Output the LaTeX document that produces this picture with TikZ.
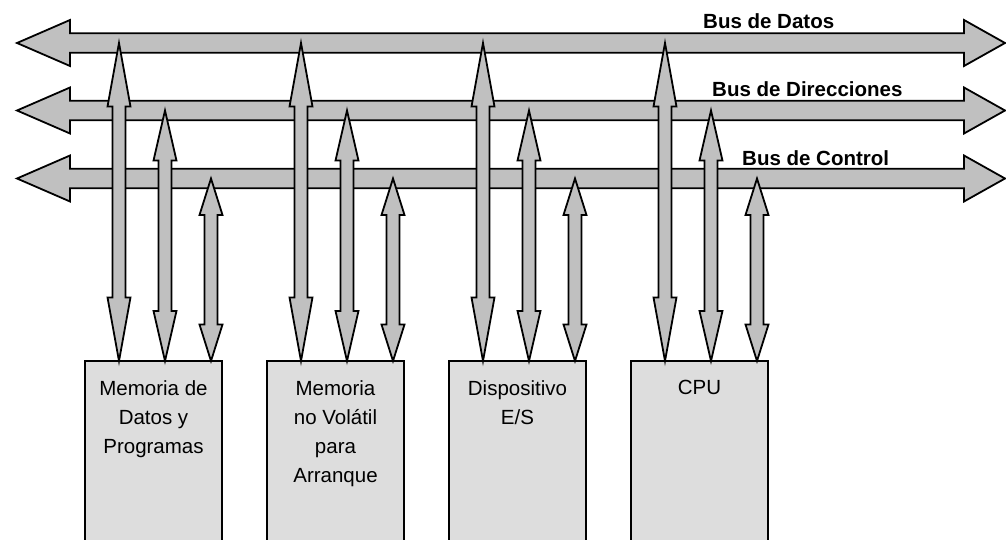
\documentclass[tikz,border=0pt]{standalone}
\usepackage{fontspec}
\setmainfont{Liberation Sans}
\usepackage{xcolor}
\usepackage{tikz}
\usetikzlibrary{positioning,calc}

\definecolor{busgray}{RGB}{192,192,192}
\definecolor{boxgray}{RGB}{221,221,221}

% horizontal bus: name, y
\newcommand{\bus}[2]{%
  \coordinate (#1) at (511,#2);
  \path[busline] (17,#2) -- ++(53,23) -- ++(0,-13.25) -- (964,#2+9.75) -- ++(0,13.25)
    -- (1005,#2) -- (964,#2-23) -- ++(0,13.25) -- (70,#2-9.75) -- ++(0,-13.25) -- cycle;
}
% vertical link from a module up to a bus: module, x offset, bus
\newcommand{\enlace}[3]{%
  \path[busline] let \p1=($(#1.north west)+(#2,0)$), \p2=(#3), \n1={0.2*(\y2-\y1)} in
    (\x1,\y1) -- ++(11.5,\n1) -- ++(-5,0) -- (\x1+6.5,\y2-\n1) -- ++(5,0) -- (\x1,\y2)
    -- ++(-11.5,-\n1) -- ++(5,0) -- (\x1-6.5,\y1+\n1) -- ++(-5,0) -- cycle;
}

\begin{document}
\begin{tikzpicture}[
    x=1pt, y=1pt,
    node distance=45pt,
    busline/.style={draw=black, line width=1.8pt, fill=busgray, line join=miter},
    modulo/.style={rectangle, draw, line width=1.8pt, fill=boxgray, minimum width=137pt, minimum height=220pt, outer sep=0pt, anchor=north},
    texto/.style={font={\fontsize{20.5}{29}\selectfont}, align=center, inner sep=0pt},
    busname/.style={font={\fontsize{20.5}{24}\selectfont\bfseries}, inner sep=0pt, anchor=base west}
]
\useasboundingbox (0,0) rectangle (1006,539);

% Buses
\bus{datos}{496}
\bus{direcciones}{428.5}
\bus{control}{360.5}

\node[busname] at (703,510) {Bus de Datos};
\node[busname] at (712,442) {Bus de Direcciones};
\node[busname] at (742,373) {Bus de Control};

% Modules
\node[modulo] (mem) at (153.5,178) {};
\node[modulo, right=of mem] (rom) {};
\node[modulo, right=of rom] (es) {};
\node[modulo, right=of es] (cpu) {};

\node[texto, below=19pt] at (mem.north) {Memoria de\\Datos y\\Programas};
\node[texto, below=19pt] at (rom.north) {Memoria\\no Volátil\\para\\Arranque};
\node[texto, below=19pt] at (es.north) {Dispositivo\\E/S};
\node[texto, below=19pt] at (cpu.north) {CPU};

% Links to the buses
\foreach \m in {mem,rom,es,cpu} {
  \enlace{\m}{34}{datos}
  \enlace{\m}{80}{direcciones}
  \enlace{\m}{126}{control}
}
\end{tikzpicture}
\end{document}
